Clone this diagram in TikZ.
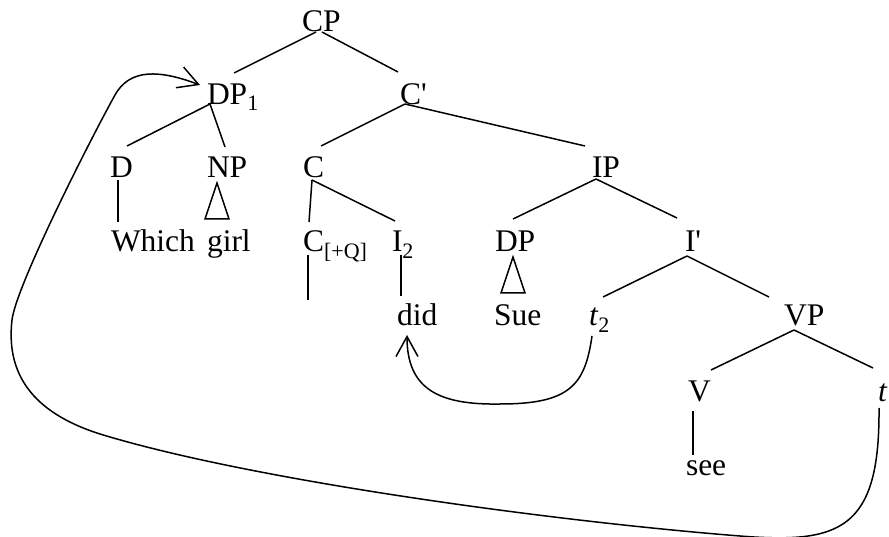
\documentclass[tikz,border=0pt]{standalone}
\usepackage{fontspec}
\setmainfont{Liberation Serif}[Ligatures=TeXOff]
\usetikzlibrary{calc,arrows.meta}

\tikzset{
  lbl/.style={anchor=base west, inner sep=0pt, outer sep=0pt,
              font=\fontsize{31.5}{36}\selectfont},
  branch/.style={line width=1.5pt},
  movearrow/.style={line width=1.5pt,
              -{Straight Barb[length=20pt,width=22pt,line width=1.5pt]}},
}

\begin{document}
\begin{tikzpicture}[x=1pt,y=-1pt]
\useasboundingbox (0,0) rectangle (889,537);

% labels of the tree
\node[lbl] (cp)    at (302,32)  {CP};
\node[lbl] (dp1)   at (207,105) {DP\textsubscript{1}};
\node[lbl] (cbar)  at (400,105) {C'};
\node[lbl] (d)     at (110,178) {D};
\node[lbl] (np)    at (207,178) {NP};
\node[lbl] (c)     at (303,178) {C};
\node[lbl] (ip)    at (592,178) {IP};
\node[lbl] (which) at (111,252) {Which};
\node[lbl] (girl)  at (207,252) {girl};
\node[lbl] (cq)    at (303,252) {C\textsubscript{[+Q]}};
\node[lbl] (i2)    at (392,252) {I\textsubscript{2}};
\node[lbl] (dp)    at (495,252) {DP};
\node[lbl] (ibar)  at (685,252) {I'};
\node[lbl] (did)   at (397,326) {did};
\node[lbl] (sue)   at (494,326) {Sue};
\node[lbl] (t2)    at (589,326) {\textit{t}\textsubscript{2}};
\node[lbl] (vp)    at (784,326) {VP};
\node[lbl] (v)     at (688,401) {V};
\node[lbl] (t)     at (878,401) {\textit{t}};
\node[lbl] (see)   at (686,475) {see};

% free end of the empty C head
\coordinate (cqend) at ($(cq.base west)+(5,48)$);

% branches
\draw[branch] ($(cp.base west)+(14,0)$)   -- ($(dp1.base west)+(27,-32)$);
\draw[branch] ($(cp.base west)+(20,0)$)   -- ($(cbar.base west)+(-2,-33)$);
\draw[branch] ($(dp1.base west)+(3,-1)$)  -- ($(d.base west)+(17,-32)$);
\draw[branch] ($(dp1.base west)+(3,-1)$)  -- ($(np.base west)+(18,-31)$);
\draw[branch] ($(d.base west)+(8,2)$)     -- ($(which.base west)+(7,-30)$);
\draw[branch] ($(cbar.base west)+(5,-1)$) -- ($(c.base west)+(18,-32)$);
\draw[branch] ($(cbar.base west)+(5,-1)$) -- ($(ip.base west)+(-7,-32)$);
\draw[branch] ($(c.base west)+(9,2)$)     -- ($(cq.base west)+(6,-30)$);
\draw[branch] ($(c.base west)+(9,2)$)     -- ($(i2.base west)+(3,-31)$);
\draw[branch] ($(cq.base west)+(5,3)$)    -- (cqend);
\draw[branch] ($(i2.base west)+(9,3)$)    -- ($(did.base west)+(4,-30)$);
\draw[branch] ($(ip.base west)+(4,1)$)    -- ($(dp.base west)+(18,-33)$);
\draw[branch] ($(ip.base west)+(4,1)$)    -- ($(ibar.base west)+(-8,-34)$);
\draw[branch] ($(ibar.base west)+(2,4)$)  -- ($(t2.base west)+(14,-29)$);
\draw[branch] ($(ibar.base west)+(2,4)$)  -- ($(vp.base west)+(-15,-29)$);
\draw[branch] ($(vp.base west)+(10,4)$)   -- ($(v.base west)+(23,-31)$);
\draw[branch] ($(vp.base west)+(10,4)$)   -- ($(t.base west)+(-5,-33)$);
\draw[branch] ($(v.base west)+(5,10)$)    -- ($(see.base west)+(7,-20)$);

% triangles over unanalysed phrases
\draw[branch, line join=miter] ($(np.base west)+(10,5)$) -- ($(np.base west)+(-2,41)$)
  -- ($(np.base west)+(22,41)$) -- cycle;
\draw[branch, line join=miter] ($(dp.base west)+(18,5)$) -- ($(dp.base west)+(6,41)$)
  -- ($(dp.base west)+(30,41)$) -- cycle;

% head movement: t2 to did
\draw[movearrow] ($(t2.base west)+(3,10)$)
  .. controls (585,385) and (570,404) .. (500,404)
  .. controls (440,405) and (407,390) .. ($(did.base west)+(10,9)$);

% wh-movement: t to DP1
\draw[movearrow] ($(t.base west)+(1,7)$)
  .. controls (880,530) and (840,544) .. (740,536)
  .. controls (550,521) and (250,480) .. (100,434)
  .. controls (40,415) and (5,380) .. (12,320)
  .. controls (16,286) and (90,140) .. (115,95)
  .. controls (130,68) and (160,70) .. ($(dp1.base west)+(-7,-20)$);
\end{tikzpicture}
\end{document}
